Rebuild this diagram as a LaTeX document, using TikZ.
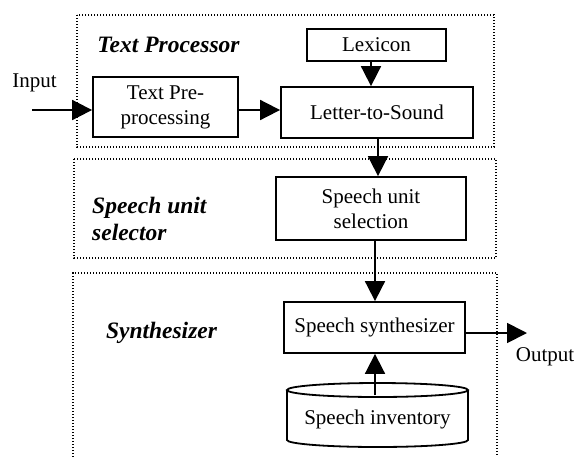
\documentclass[tikz,border=0pt]{standalone}
\usepackage{fontspec}
\setmainfont{Liberation Serif}
\usetikzlibrary{arrows.meta}
\begin{document}
\begin{tikzpicture}[x=1pt,y=-1pt,
  box/.style={draw,line width=1.8pt,rectangle,inner sep=0pt,align=center,
    font=\fontsize{21}{25}\selectfont},
  lbl/.style={inner sep=0pt,font=\fontsize{21}{25}\selectfont},
  grp/.style={inner sep=0pt,align=left,font=\fontsize{23.5}{27}\selectfont\bfseries\itshape},
  frame/.style={line width=1.3pt,dash pattern=on 1.3pt off 1.7pt},
  conn/.style={line width=1.8pt,-{Triangle[length=20pt,width=20pt]}}]
\useasboundingbox (0,0) rectangle (575,456);
% group frames
\draw[frame] (77,15) rectangle (494,147);
\draw[frame] (74,159) rectangle (496,258);
\draw[frame] (73,460) -- (73,273) -- (497,273) -- (497,460);
% group labels
\node[grp] (gtp) at (168.5,45) {Text Processor};
\node[grp,anchor=west] (gsu) at (92,218.5) {Speech unit\\selector};
\node[grp] (gsy) at (161.5,333) {Synthesizer};
% boxes
\node[box,minimum width=139pt,minimum height=32pt] (lex) at (376.5,45) {Lexicon};
\node[box,minimum width=192pt,minimum height=51pt] (lts) at (377,112.5) {Letter-to-Sound};
\node[box,minimum width=145pt,minimum height=60pt] (tpp) at (165.5,107) {Text Pre-\\processing};
\node[box,minimum width=190pt,minimum height=63pt] (sus) at (371,208.5) {Speech unit\\selection};
\node[box,minimum width=181pt,minimum height=51pt] (syn) at (374.5,327.5) {Speech synthesizer};
\node[lbl,minimum width=181pt,minimum height=64pt,yshift=-4pt] (inv) at (377.5,415) {Speech inventory};
% cylinder
\draw[line width=1.8pt] (287,390) -- (287,440)
  arc[start angle=180,end angle=360,x radius=90.5pt,y radius=7pt] -- (468,390);
\draw[line width=1.8pt] (377.5,390) ellipse[x radius=90.5pt,y radius=7pt];
% labels
\node[lbl] (inp) at (34.5,83) {Input};
\node[lbl] (outp) at (545,357) {Output};
\coordinate (inA) at (32,110);
\coordinate (outB) at (527,333);
\coordinate (invtop) at (375,395);
% connectors
\draw[conn] (inA) -- (inA -| tpp.west);
\draw[conn] ([yshift=-3pt]tpp.east) -- ([yshift=-3pt]tpp.east -| lts.west);
\draw[conn] ([xshift=-5.5pt]lex.south) -- ([xshift=-5.5pt]lex.south |- lts.north);
\draw[conn] ([xshift=1pt]lts.south) -- ([xshift=1pt]lts.south |- sus.north);
\draw[conn] ([xshift=4pt]sus.south) -- ([xshift=4pt]sus.south |- syn.north);
\draw[conn] (invtop) -- (invtop |- syn.south);
\draw[conn] (syn.east |- outB) -- (outB);
\end{tikzpicture}
\end{document}
